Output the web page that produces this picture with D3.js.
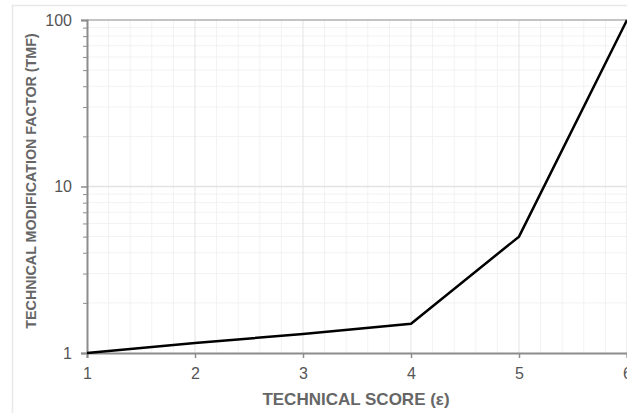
<!DOCTYPE html>
<html><head><meta charset="utf-8">
<script src="https://cdn.jsdelivr.net/npm/d3@7"></script>
<style>body{margin:0;background:#fff;}svg{display:block;font-family:"Liberation Sans",Arial,sans-serif;}</style>
</head><body>
<svg id="c" width="627" height="413"></svg>
<script>
const scores = [1, 2, 3, 4, 5, 6];
const tmf = [1, 1.15, 1.3, 1.5, 5, 100];
const xTicks = [1, 2, 3, 4, 5, 6];
const yTicks = [1, 10, 100];
const xTitle = "TECHNICAL SCORE (\u03b5)";
const yTitle = "TECHNICAL MODIFICATION FACTOR (TMF)";

const svg = d3.select("#c");
const L = 87, R = 627, T = 20, B = 353;
const x = d3.scaleLinear().domain([1, 6]).range([L, R]);
const y = d3.scaleLog().domain([1, 100]).range([B, T]);

// outer frame
svg.append("rect").attr("x", 12.5).attr("y", 5.5).attr("width", 700).attr("height", 500)
  .attr("fill", "none").attr("stroke", "#e8e8e8").attr("stroke-width", 1.5);

const g = svg.append("g");
// minor x grid
const xMinor = d3.range(1, 6.001, 0.2).map(v => +v.toFixed(1)).filter(v => !xTicks.includes(v));
g.selectAll(".xm").data(xMinor).join("line")
  .attr("x1", d => x(d)).attr("x2", d => x(d)).attr("y1", T).attr("y2", B)
  .attr("stroke", "#f2f2f2").attr("stroke-width", 1);
// minor y grid
const yMinor = [];
[1, 10].forEach(dec => { for (let k = 2; k <= 9; k++) yMinor.push(dec * k); });
g.selectAll(".ym").data(yMinor).join("line")
  .attr("x1", L).attr("x2", R).attr("y1", d => y(d)).attr("y2", d => y(d))
  .attr("stroke", "#f2f2f2").attr("stroke-width", 1);
// major grid
g.selectAll(".xg").data(xTicks.slice(1)).join("line")
  .attr("x1", d => x(d)).attr("x2", d => x(d)).attr("y1", T).attr("y2", B)
  .attr("stroke", "#e3e3e3").attr("stroke-width", 1);
g.selectAll(".yg").data([10]).join("line")
  .attr("x1", L).attr("x2", R).attr("y1", d => y(d)).attr("y2", d => y(d))
  .attr("stroke", "#e3e3e3").attr("stroke-width", 1.5);
// top border at 100
g.append("line").attr("x1", L).attr("x2", R).attr("y1", y(100)).attr("y2", y(100))
  .attr("stroke", "#b0b0b0").attr("stroke-width", 1.5);

// axes
const xAxis = d3.axisBottom(x).tickValues(xTicks).tickSize(5).tickPadding(10).tickFormat(d3.format("d"));
const gx = svg.append("g").attr("transform", `translate(0,${B})`).call(xAxis);
gx.select(".domain").attr("stroke", "#8c8c8c").attr("stroke-width", 2);
gx.selectAll(".tick line").attr("stroke", "#8c8c8c").attr("stroke-width", 1.5);
gx.selectAll(".tick text").attr("fill", "#555").style("font-size", "16px");

const yAxis = d3.axisLeft(y).tickValues(yTicks).tickSize(6).tickPadding(9).tickFormat(d3.format("d"));
const gy = svg.append("g").attr("transform", `translate(${L},0)`).call(yAxis);
gy.select(".domain").attr("stroke", "#8c8c8c").attr("stroke-width", 2);
gy.selectAll(".tick line").attr("stroke", "#8c8c8c").attr("stroke-width", 1.5);
gy.selectAll(".tick text").attr("fill", "#555").style("font-size", "16px");
const gym = svg.append("g").attr("transform", `translate(${L},0)`)
  .call(d3.axisLeft(y).tickValues(yMinor).tickSize(4).tickFormat(""));
gym.select(".domain").remove();
gym.selectAll(".tick line").attr("stroke", "#8c8c8c").attr("stroke-width", 1);

// line
const line = d3.line().x((d, i) => x(scores[i])).y(d => y(d));
svg.append("path").datum(tmf).attr("d", line)
  .attr("fill", "none").attr("stroke", "#000").attr("stroke-width", 2.5).attr("stroke-linejoin", "miter");

// titles
svg.append("text").attr("x", 356).attr("y", 405).attr("text-anchor", "middle")
  .attr("fill", "#666").style("font-size", "17px").style("font-weight", "bold").text(xTitle);
svg.append("text").attr("transform", `translate(36,181) rotate(-90)`).attr("text-anchor", "middle")
  .attr("fill", "#666").style("font-size", "14.3px").style("font-weight", "bold").text(yTitle);
</script>
</body></html>
